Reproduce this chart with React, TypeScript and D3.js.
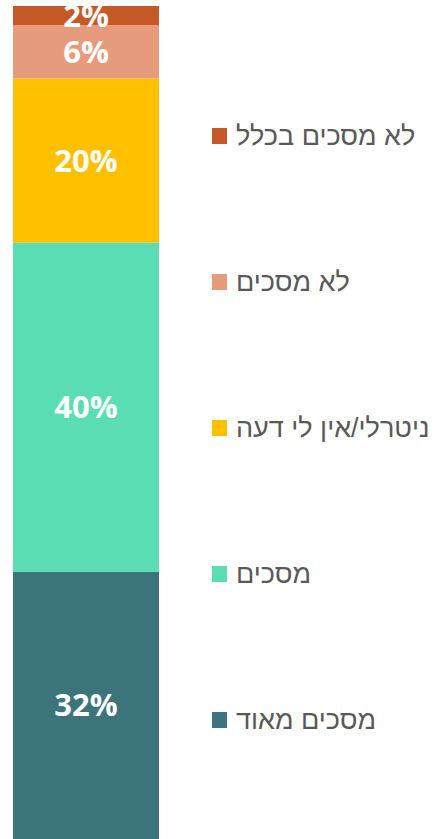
import React, { useEffect, useRef } from "react";
import * as d3 from "d3";

// bottom to top
const categories = ["מסכים מאוד", "מסכים", "ניטרלי/אין לי דעה", "לא מסכים", "לא מסכים בכלל"];
const values = [32.1, 39.5, 19.7, 6.4, 2.3];
const colors = ["#3B747A", "#5BDDB3", "#FFC000", "#E69C7C", "#C55A28"];

const App = () => {
  const svgRef = useRef<SVGSVGElement>(null);

  useEffect(() => {
    const width = 446;
    const height = 839;
    const svg = d3.select(svgRef.current);
    svg.selectAll("*").remove();
    svg.attr("width", width).attr("height", height);

    const total = d3.sum(values);
    const yScale = d3.scaleLinear().domain([0, total]).range([839, 6]);
    const xScale = d3.scaleBand().domain(["all"]).range([13, 159]).padding(0);

    const segs = values.map((v, i) => {
      const y0 = d3.sum(values.slice(0, i));
      return { cat: categories[i], v, y0, y1: y0 + v, color: colors[i] };
    });

    const g = svg.append("g");
    g.selectAll("rect")
      .data(segs)
      .enter()
      .append("rect")
      .attr("x", xScale("all")!)
      .attr("width", xScale.bandwidth())
      .attr("y", d => yScale(d.y1))
      .attr("height", d => yScale(d.y0) - yScale(d.y1))
      .attr("fill", d => d.color);

    g.selectAll("text.lbl")
      .data(segs)
      .enter()
      .append("text")
      .attr("class", "lbl")
      .attr("x", xScale("all")! + xScale.bandwidth() / 2)
      .attr("y", d => (yScale(d.y0) + yScale(d.y1)) / 2)
      .attr("dy", "0.36em")
      .attr("text-anchor", "middle")
      .attr("fill", "#fff")
      .style("font-family", "'Open Sans', sans-serif")
      .style("font-weight", "bold")
      .style("font-size", "31px")
      .text(d => `${Math.round(d.v)}%`);

    // legend, top item first
    const legendY = d3.scalePoint<string>()
      .domain(categories.slice().reverse())
      .range([136, 720]);

    const leg = svg.append("g")
      .selectAll("g")
      .data(segs)
      .enter()
      .append("g")
      .attr("transform", d => `translate(212,${legendY(d.cat)})`);

    leg.append("rect")
      .attr("x", 0)
      .attr("y", -8)
      .attr("width", 15)
      .attr("height", 16)
      .attr("fill", d => d.color);

    leg.append("text")
      .attr("x", 24)
      .attr("dy", "0.33em")
      .attr("fill", "#595959")
      .style("font-family", "'Liberation Sans', Arial, sans-serif")
      .style("font-size", "27px")
      .text(d => d.cat);
  }, []);

  return (
    <svg ref={svgRef} style={{ position: "absolute", left: 0, top: 0 }}></svg>
  );
};

export default App;
